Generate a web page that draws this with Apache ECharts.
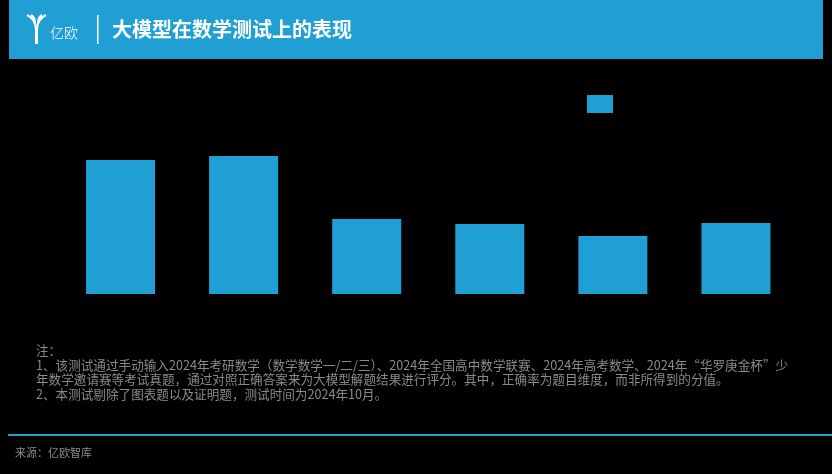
<!DOCTYPE html>
<html><head><meta charset="utf-8">
<script src="https://cdn.jsdelivr.net/npm/echarts@6/dist/echarts.min.js"></script>
<style>html,body{margin:0;padding:0;background:#000;}#c{width:832px;height:474px;}</style>
</head><body><div id="c"></div>
<script>
const categories = ['模型A', '模型B', '模型C', '模型D', '模型E', '模型F'];
const accuracy = [67, 69, 37.5, 35, 29, 35.5];
const seriesName = '正确率';
const titleText = '大模型在数学测试上的表现';
const brandText = '亿欧';
const noteLines = [
  '注：',
  '1、该测试通过手动输入2024年考研数学（数学数学一/二/三）、2024年全国高中数学联赛、2024年高考数学、2024年“华罗庚金杯”少',
  '年数学邀请赛等考试真题，通过对照正确答案来为大模型解题结果进行评分。其中，正确率为题目维度，而非所得到的分值。',
  '2、本测试剔除了图表题以及证明题，测试时间为2024年10月。'
];
const sourceText = '来源：亿欧智库';

const FONT = '"Noto Sans CJK SC", "Noto Sans", sans-serif';
const BLUE = '#209fd5';
const chart = echarts.init(document.getElementById('c'), null, {renderer: 'canvas'});

const logoStyle = {stroke: '#fff', lineWidth: 2, fill: null};
const graphics = [
  {type: 'rect', shape: {x: 9, y: 0, width: 814, height: 59}, style: {fill: '#1f9fd4'}},
  // logo mark
  {type: 'bezierCurve', shape: {x1: 27, y1: 15, cpx1: 36, cpy1: 19, x2: 36, y2: 30}, style: logoStyle},
  {type: 'bezierCurve', shape: {x1: 46, y1: 15, cpx1: 37, cpy1: 19, x2: 37, y2: 30}, style: logoStyle},
  {type: 'bezierCurve', shape: {x1: 31, y1: 15, cpx1: 35, cpy1: 17, x2: 35, y2: 24}, style: logoStyle},
  {type: 'bezierCurve', shape: {x1: 42, y1: 15, cpx1: 38, cpy1: 17, x2: 38, y2: 24}, style: logoStyle},
  {type: 'line', shape: {x1: 36.5, y1: 28, x2: 36.5, y2: 44}, style: {stroke: '#fff', lineWidth: 3}},
  {type: 'text', left: 50, top: 26, style: {text: brandText, fill: '#fff', font: '300 14px ' + FONT}},
  {type: 'rect', shape: {x: 97, y: 15, width: 1.5, height: 29}, style: {fill: '#fff'}},
  {type: 'text', left: 112, top: 19, style: {text: titleText, fill: '#fff', font: 'bold 20px ' + FONT}},
  {type: 'rect', shape: {x: 8, y: 434, width: 824, height: 2}, style: {fill: BLUE}},
  {type: 'text', left: 15, top: 447, style: {text: sourceText, fill: '#8a8a8a', font: '11px ' + FONT}}
];
noteLines.forEach((t, i) => {
  graphics.push({type: 'text', left: 36, top: 344 + i * 14.5, style: {text: t, fill: '#8a8a8a', font: '12.6px ' + FONT}});
});

chart.setOption({
  backgroundColor: '#000',
  animation: false,
  legend: {
    left: 582, top: 90, itemWidth: 26, itemHeight: 18, icon: 'rect',
    textStyle: {color: '#000', fontFamily: FONT},
    data: [seriesName]
  },
  grid: {left: 59, right: 34.5, top: 94, bottom: 180},
  xAxis: {
    type: 'category', data: categories,
    axisLine: {show: false}, axisTick: {show: false},
    axisLabel: {color: '#000', fontFamily: FONT}
  },
  yAxis: {
    type: 'value', min: 0, max: 100, interval: 20,
    show: false
  },
  series: [{
    name: seriesName, type: 'bar', data: accuracy, barWidth: 69,
    itemStyle: {color: BLUE}
  }],
  graphic: graphics
});
</script></body></html>
